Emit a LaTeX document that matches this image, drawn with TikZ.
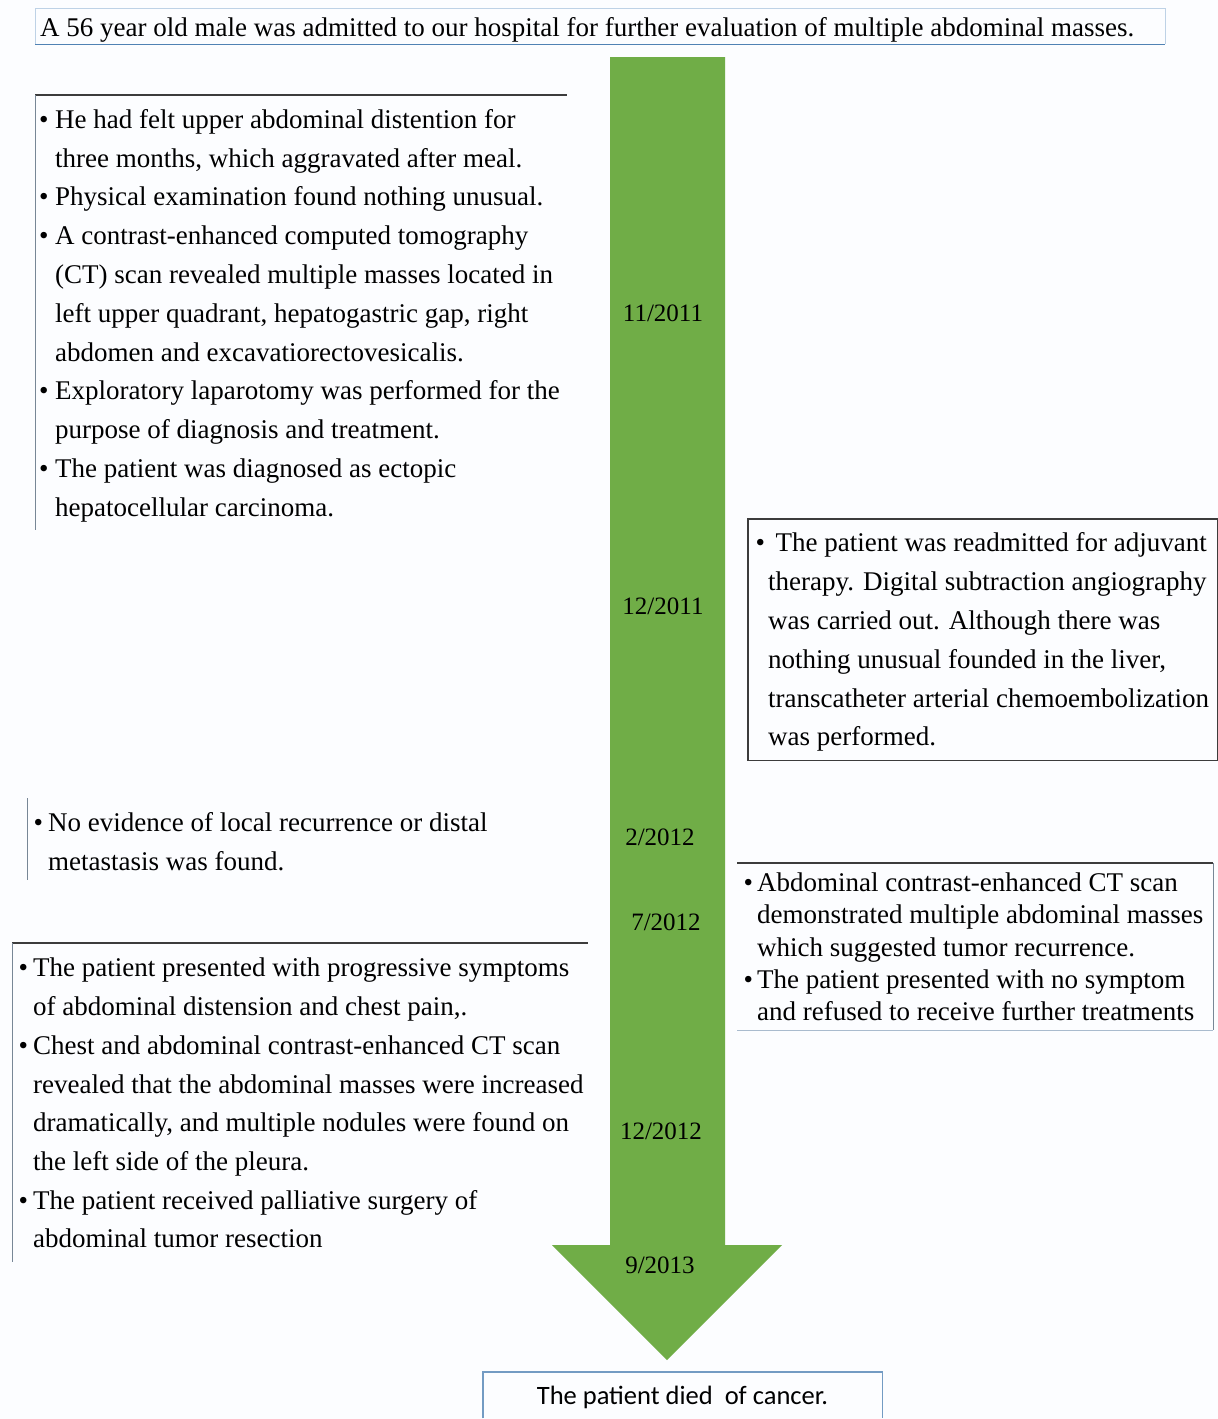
\documentclass[tikz,border=0pt]{standalone}
\usepackage{fontspec}
\setmainfont{Liberation Serif}
\newfontfamily\calibrifont{Carlito}
\definecolor{arrowgreen}{RGB}{112,173,71}
\definecolor{bgwhite}{RGB}{252,253,255}
\definecolor{darkline}{RGB}{60,60,60}
\definecolor{thinline}{RGB}{120,135,150}
\definecolor{lightblue}{RGB}{190,210,230}
\definecolor{midblue}{RGB}{80,130,180}
\newcommand{\bl}[1]{\makebox[#1][l]{\textbullet}}
\newcommand{\ind}[1]{\hspace*{#1}}
\begin{document}
\begin{tikzpicture}[x=1pt,y=-1pt,
  txt/.style={anchor=north west, inner sep=0pt, align=left, font=\fontsize{27}{38.8}\selectfont},
  datelabel/.style={anchor=base, inner sep=0pt, font=\fontsize{25}{30}\selectfont},
  frame/.style={draw=none, inner sep=0pt, anchor=north west},
  heavy/.style={draw=darkline, line width=1.6pt},
  thin/.style={draw=thinline, line width=1pt}]
\useasboundingbox[fill=bgwhite] (0,0) rectangle (1218,1419);

% arrow
\fill[arrowgreen] (610,57) -- (725,57) -- (725,1245) -- (782,1245) -- (667,1360) -- (552,1245) -- (610,1245) -- cycle;

% top box
\node[frame, minimum width=1130pt, minimum height=36pt] (topbox) at (35,8) {};
\draw[lightblue, line width=1pt] (topbox.south west) -- (topbox.north west) -- (topbox.north east) -- (topbox.south east);
\draw[midblue, line width=1.5pt] (topbox.south west) -- (topbox.south east);
\node[anchor=base west, inner sep=0pt, font=\fontsize{27}{32}\selectfont] (toptext) at (40,36)
  {A 56 year old male was admitted to our hospital for further evaluation of multiple abdominal masses.};

% box 1
\node[frame, minimum width=532pt, minimum height=435pt] (b1) at (35,95) {};
\draw[heavy] (b1.north west) -- (b1.north east);
\draw[thin] (b1.north west) -- (b1.south west);
\node[txt] (t1) at (39,109) {%
\bl{16pt}He had felt upper abdominal distention for\\
\ind{16pt}three months, which aggravated after meal.\\
\bl{16pt}Physical examination found nothing unusual.\\
\bl{16pt}A contrast-enhanced computed tomography\\
\ind{16pt}(CT) scan revealed multiple masses located in\\
\ind{16pt}left upper quadrant, hepatogastric gap, right\\
\ind{16pt}abdomen and excavatiorectovesicalis.\\
\bl{16pt}Exploratory laparotomy was performed for the\\
\ind{16pt}purpose of diagnosis and treatment.\\
\bl{16pt}The patient was diagnosed as ectopic\\
\ind{16pt}hepatocellular carcinoma.};

% box 2
\node[frame, minimum width=469pt, minimum height=241pt] (b2) at (748,519) {};
\draw[heavy] (b2.north west) rectangle (b2.south east);
\node[txt] (t2) at (755.5,532.6) {%
\bl{20pt}The patient was readmitted for adjuvant\\
\ind{12.5pt}therapy. Digital subtraction angiography\\
\ind{12.5pt}was carried out. Although there was\\
\ind{12.5pt}nothing unusual founded in the liver,\\
\ind{12.5pt}transcatheter arterial chemoembolization\\
\ind{12.5pt}was performed.};

% box 3
\node[frame, minimum width=10pt, minimum height=82pt] (b3) at (27,798) {};
\draw[thin] (b3.north west) -- (b3.south west);
\node[txt] (t3) at (33.5,812) {%
\bl{14.5pt}No evidence of local recurrence or distal\\
\ind{14.5pt}metastasis was found.};

% box 4
\node[frame, minimum width=476pt, minimum height=167pt] (b4) at (737,863) {};
\draw[heavy] (b4.north west) -- (b4.north east);
\draw[thin] (b4.north east) -- (b4.south east);
\draw[lightblue!70!thinline, line width=1.2pt] (b4.south west) -- (b4.south east);
\node[txt, font=\fontsize{27}{32.25}\selectfont] (t4) at (743.5,872.6) {%
\bl{13.5pt}Abdominal contrast-enhanced CT scan\\
\ind{13.5pt}demonstrated multiple abdominal masses\\
\ind{13.5pt}which suggested tumor recurrence.\\
\bl{13.5pt}The patient presented with no symptom\\
\ind{13.5pt}and refused to receive further treatments};

% box 5
\node[frame, minimum width=576pt, minimum height=319pt] (b5) at (12,943) {};
\draw[heavy] (b5.north west) -- (b5.north east);
\draw[thin] (b5.north west) -- (b5.south west);
\node[txt, font=\fontsize{27}{38.7}\selectfont] (t5) at (18.5,958) {%
\bl{14.5pt}The patient presented with progressive symptoms\\
\ind{14.5pt}of abdominal distension and chest pain,.\\
\bl{14.5pt}Chest and abdominal contrast-enhanced CT scan\\
\ind{14.5pt}revealed that the abdominal masses were increased\\
\ind{14.5pt}dramatically, and multiple nodules were found on\\
\ind{14.5pt}the left side of the pleura.\\
\bl{14.5pt}The patient received palliative surgery of\\
\ind{14.5pt}abdominal tumor resection};

% dates
\node[datelabel] (d1) at (663,321) {11/2011};
\node[datelabel] (d2) at (663,614) {12/2011};
\node[datelabel] (d3) at (660,845) {2/2012};
\node[datelabel] (d4) at (666,930) {7/2012};
\node[datelabel] (d5) at (661,1139) {12/2012};
\node[datelabel] (d6) at (660,1273) {9/2013};

% bottom box
\node[frame, minimum width=399pt, minimum height=46pt] (endbox) at (483,1372) {};
\draw[midblue!80, line width=1.3pt] (endbox.south west) -- (endbox.north west) -- (endbox.north east) -- (endbox.south east);
\node[anchor=base, inner sep=0pt, font=\calibrifont\fontsize{26.5}{30}\selectfont] (endtext) at (682.5,1404) {The patient died\ \ of cancer.};
\end{tikzpicture}
\end{document}
